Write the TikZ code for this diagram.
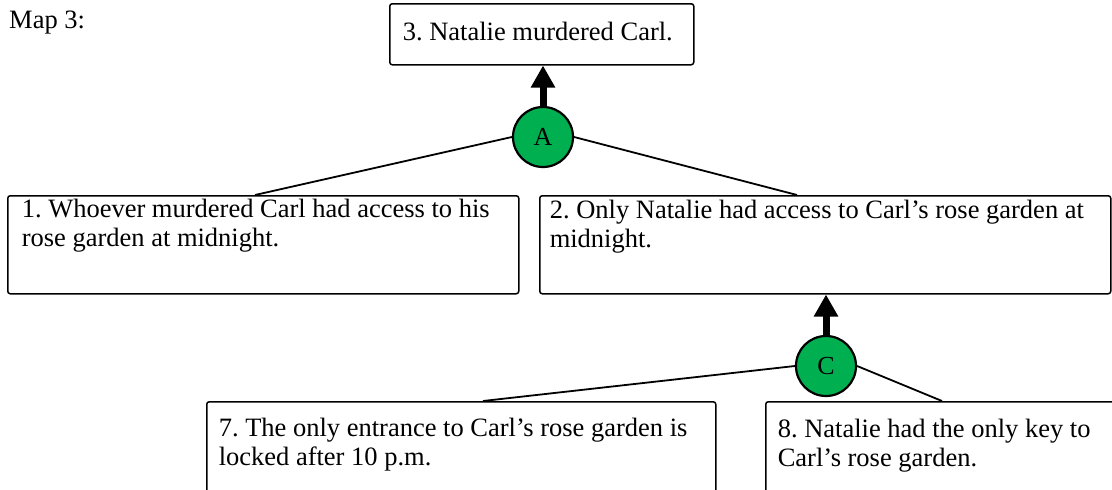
\documentclass[tikz,border=0pt]{standalone}
\usepackage{fontspec}
\setmainfont{Liberation Serif}
\usetikzlibrary{arrows.meta,calc}
\definecolor{okgreen}{HTML}{00B050}
\frenchspacing
\newcommand\boxcontent[4]{\parbox[c][#2][t]{#1}{\vspace*{#3}#4}}
\newcommand\jointtext[1]{{\fontsize{26}{28}\selectfont #1}}
\tikzset{
  pbox/.style={draw=black, line width=1.5pt, rounded corners=2.5pt, anchor=north west,
    inner ysep=0pt, font=\fontsize{26.5}{29}\selectfont},
  link/.style={draw=black, line width=1.8pt},
  joint/.style={circle, draw=black, line width=2.2pt, fill=okgreen, minimum size=60pt,
    inner sep=0pt},
  fatarrow/.style={draw=black, line width=7pt, -{Triangle[width=23pt,length=22pt]}},
  maplabel/.style={anchor=base west, inner sep=0pt, font=\fontsize{26.5}{29}\selectfont}
}
\begin{document}
\begin{tikzpicture}[x=1pt, y=-1pt]
\useasboundingbox (0,0) rectangle (1112,490);
\clip (0,0) rectangle (1112,490);
\fill[white] (0,0) rectangle (1112,490);

\node[maplabel] (map) at (9,28) {Map 3:};

\node[pbox, inner xsep=13pt] (b3) at (389,3)
  {\boxcontent{278pt}{61pt}{16.7pt}{\strut 3. Natalie murdered Carl.}};
\node[pbox, inner xsep=14pt] (b1) at (7,195)
  {\boxcontent{483pt}{98pt}{1.7pt}{\strut 1. Whoever murdered Carl had access to his\\\strut rose garden at midnight.}};
\node[pbox, inner xsep=10pt] (b2) at (539,195)
  {\boxcontent{551pt}{98pt}{2.7pt}{\strut 2. Only Natalie had access to Carl’s rose garden at\\\strut midnight.}};
\node[pbox, inner xsep=12pt] (b7) at (206,401)
  {\boxcontent{485pt}{120pt}{14.7pt}{\strut 7. The only entrance to Carl’s rose garden is\\\strut locked after 10 p.m.}};
\node[pbox, inner xsep=12pt] (b8) at (765,401)
  {\boxcontent{376pt}{120pt}{15.7pt}{\strut 8. Natalie had the only key to\\\strut Carl’s rose garden.}};

\coordinate (t1) at ($(b1.north west)+(248,0)$);
\coordinate (t2) at ($(b2.north west)+(258,0)$);
\coordinate (t7) at ($(b7.north west)+(277,0)$);
\coordinate (t8) at ($(b8.north west)+(177,0)$);

\node[joint] (A) at (543,137) {\jointtext{A}};
\node[joint] (C) at (826,366) {\jointtext{C}};

\draw[link] (A.west) -- (t1);
\draw[link] (A.east) -- (t2);
\draw[link] (C.west) -- (t7);
\draw[link] (C.east) -- (t8);

\draw[fatarrow] (A.north) -- (A.north |- b3.south);
\draw[fatarrow] (C.north) -- (C.north |- b2.south);
\end{tikzpicture}
\end{document}
